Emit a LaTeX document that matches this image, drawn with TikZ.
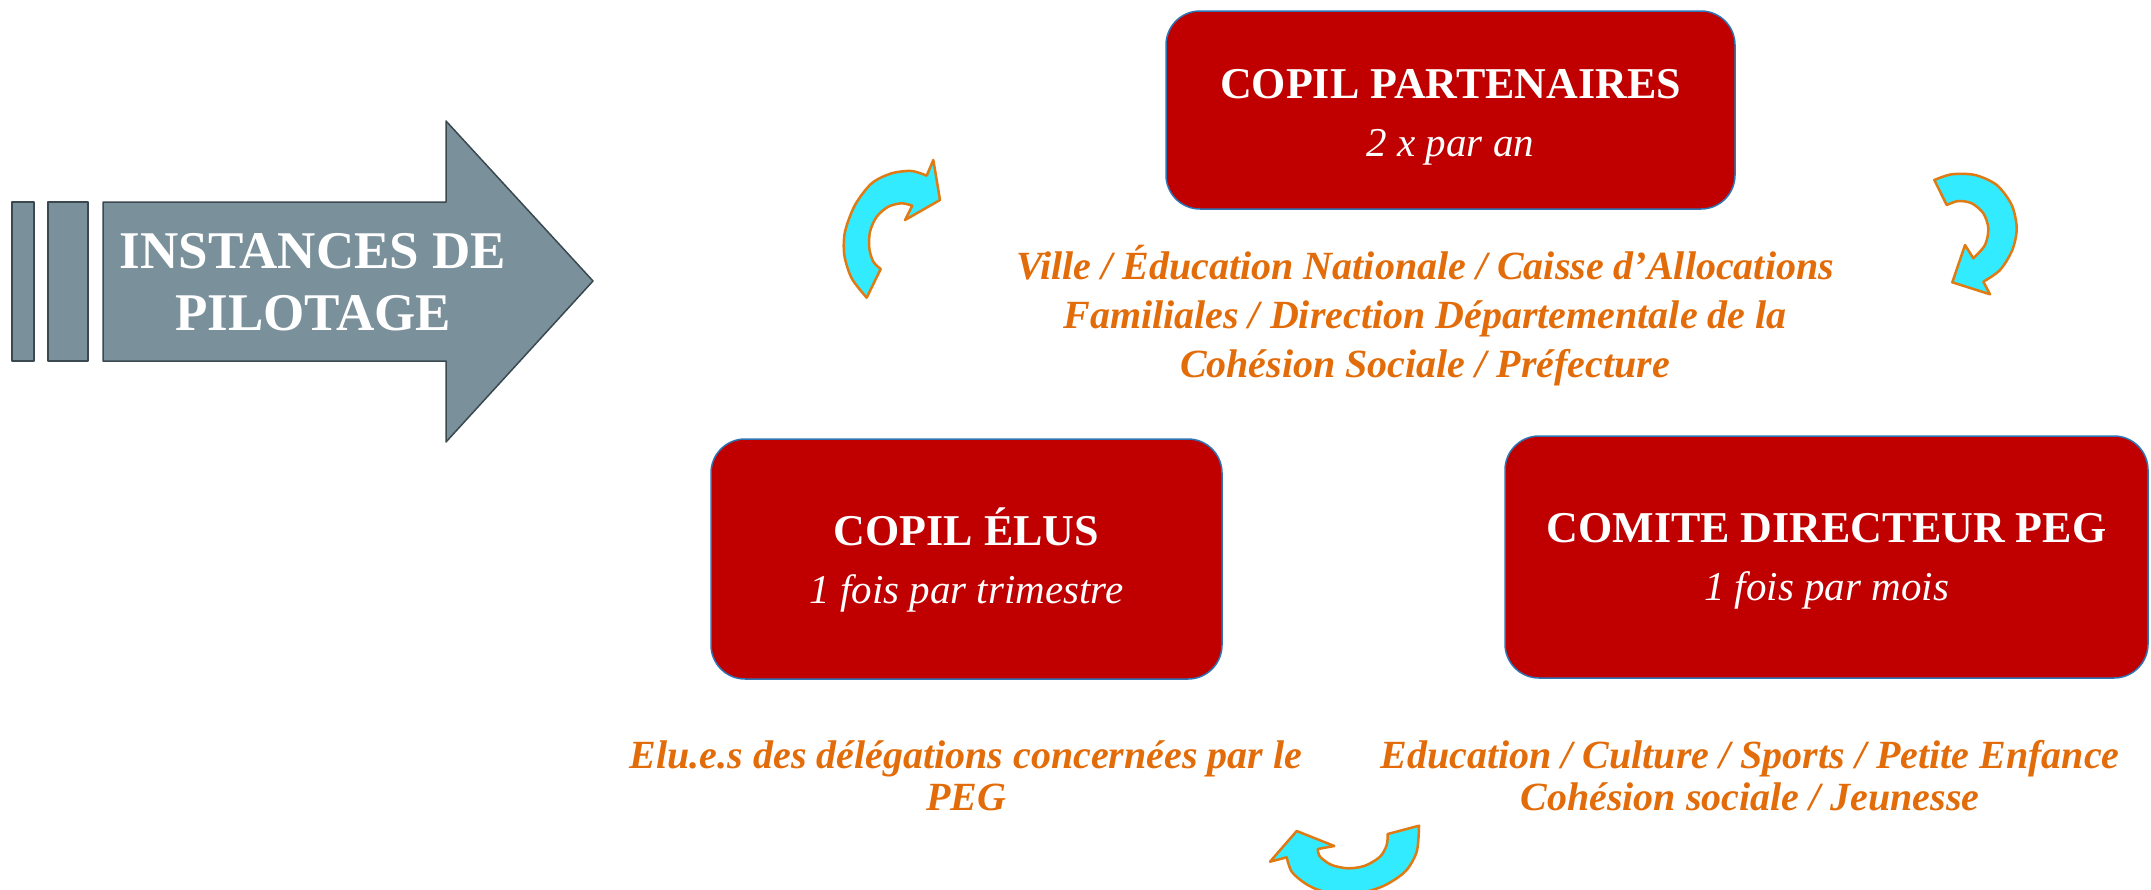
\documentclass[tikz,border=0pt]{standalone}
\usepackage{fontspec}
\setmainfont{Liberation Serif}
\definecolor{boxred}{HTML}{C00000}
\definecolor{boxline}{HTML}{2E75B6}
\definecolor{slate}{HTML}{7A909B}
\definecolor{slateline}{HTML}{3A4850}
\definecolor{turncyan}{HTML}{33EBFF}
\definecolor{turnline}{HTML}{E07A12}
\definecolor{membertxt}{HTML}{E36C0A}
\newcommand{\freq}[1]{{\mdseries\itshape\fontsize{41}{58}\selectfont #1}}
\begin{document}
\begin{tikzpicture}[x=1pt,y=-1pt,line join=round,
  copil/.style={draw=boxline,line width=1.5pt,fill=boxred,rounded corners=34pt},
  copiltxt/.style={text=white,align=center,font=\fontsize{44}{58}\selectfont\bfseries},
  members/.style={text=membertxt,align=center,inner sep=0pt,font=\fontsize{40}{49}\selectfont\bfseries\itshape},
  turn/.style={fill=turncyan,draw=turnline,line width=2.5pt},
  pilot/.style={fill=slate,draw=slateline,line width=1.5pt}]
\useasboundingbox (0,0) rectangle (2151,889);
\clip (0,0) rectangle (2151,889);
% fleche de gauche
\draw[pilot] (12,202) rectangle (34,361);
\draw[pilot] (48,202) rectangle (88,361);
\draw[pilot] (103,202)--(446,202)--(446,121)--(593,281)--(446,442)--(446,361)--(103,361)--cycle;
\node[text=white,align=center,font=\fontsize{53}{62}\selectfont\bfseries] (instances) at (313,282) {INSTANCES DE\\PILOTAGE};
% les trois instances
\node[copil,minimum width=569,minimum height=198] (partenaires) at (1450.5,110) {};
\node[copiltxt] (partenairestxt) at ([yshift=-7pt]partenaires.center) {COPIL PARTENAIRES\\\freq{2 x par an}};
\node[copil,minimum width=511,minimum height=240] (elus) at (966.5,559) {};
\node[copiltxt] (elustxt) at ([yshift=-1pt]elus.center) {COPIL ÉLUS\\\freq{1 fois par trimestre}};
\node[copil,minimum width=643,minimum height=242] (comite) at (1826.5,557) {};
\node[copiltxt] (comitetxt) at ([yshift=-4pt]comite.center) {COMITE DIRECTEUR PEG\\\freq{1 fois par mois}};
% qui siege
\node[members] (partlist) at (1425,316) {Ville / Éducation Nationale / Caisse d’Allocations\\Familiales / Direction Départementale de la\\Cohésion Sociale / Préfecture};
\node[members,font=\fontsize{40}{42}\selectfont\bfseries\itshape] (eluslist) at (966,776) {Elu.e.s des délégations concernées par le\\PEG};
\node[members,font=\fontsize{40}{42}\selectfont\bfseries\itshape] (comitelist) at (1750,776) {Education / Culture / Sports / Petite Enfance\\Cohésion sociale / Jeunesse};
% fleches tournantes
\filldraw[turn] (866.7,297.7)--(880.7,269)--plot[smooth] coordinates {(880.7,269) (873.3,261.7) (869.3,248.3) (870,231.7) (876.7,216.7) (888.3,206.7) (901.7,203.3) (912.3,205.7)}--(905,220)--(940,200)--(933.3,160)--(926.7,175.7)--plot[smooth] coordinates {(926.7,175.7) (911.7,171) (891.7,173.3) (871.7,183.3) (855,205) (845,231.7) (844.3,255) (851.7,278.3) (866.7,297.7)}--cycle;
\filldraw[turn] (1934.3,180)--(1946.7,205)--plot[smooth] coordinates {(1946.7,205) (1958.3,201) (1971.7,203.3) (1983.3,213.3) (1988.3,228.3) (1985,245) (1973.3,258.3)}--(1965,245)--(1952.3,282.3)--(1990,294.3)--(1983.3,281.7)--plot[smooth] coordinates {(1983.3,281.7) (2000,270) (2012.3,250) (2016.7,228.3) (2011.7,205) (1996.7,185) (1975,175) (1951.7,174.3) (1934.3,180)}--cycle;
\filldraw[turn] (1419,825.7)--(1387.7,834)--plot[smooth] coordinates {(1387.7,834) (1386.7,845) (1380,856.7) (1365,865.7) (1348.3,868.3) (1331.7,865) (1320,856.7) (1317.7,849)}--(1334.3,846)--(1296.7,831)--(1270,861.7)--(1286.7,857.3)--plot[smooth] coordinates {(1286.7,857.3) (1291.7,871.7) (1305,883.3) (1321.7,891) (1350,895) (1381.7,886.7) (1405,871.7) (1416.7,851.7) (1419,825.7)}--cycle;
\end{tikzpicture}
\end{document}
